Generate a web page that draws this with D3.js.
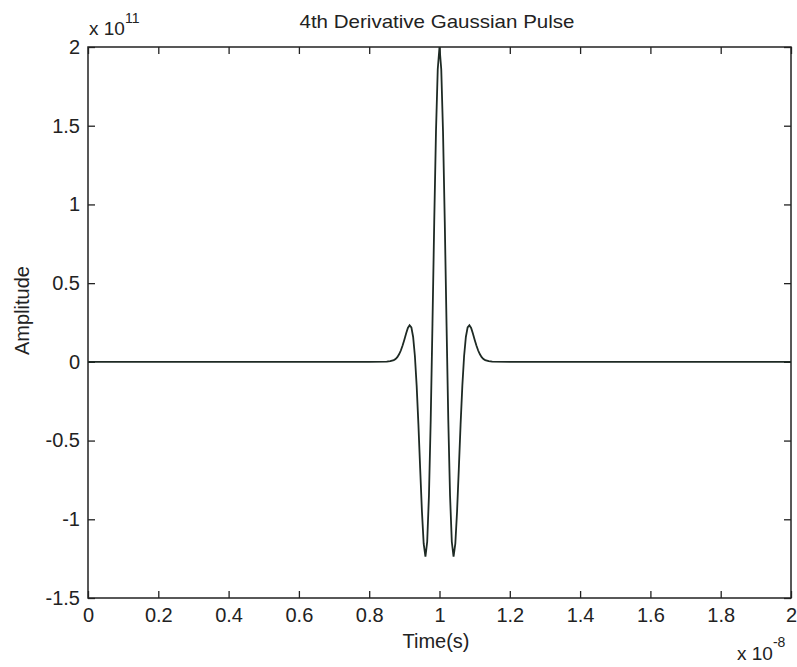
<!DOCTYPE html>
<html>
<head>
<meta charset="utf-8">
<script src="https://cdn.jsdelivr.net/npm/d3@7"></script>
<style>
  body { margin: 0; background: #fff; }
  text { font-family: "Liberation Sans", Arial, sans-serif; fill: #222; }
</style>
</head>
<body>
<div id="chart"></div>
<script>
// time in units of 1e-8 s, amplitude in units of 1e11
const times = [0, 0.80, 0.85, 0.86, 0.87, 0.875, 0.88, 0.885, 0.89, 0.895, 0.90, 0.905, 0.91, 0.915, 0.92,
               0.925, 0.93, 0.935, 0.94, 0.945, 0.95, 0.955, 0.96, 0.965, 0.97, 0.975, 0.98, 0.985, 0.99, 0.995,
               1.00, 1.005, 1.01, 1.015, 1.02, 1.025, 1.03, 1.035, 1.04, 1.045, 1.05, 1.055, 1.06, 1.065,
               1.07, 1.075, 1.08, 1.085, 1.09, 1.095, 1.10, 1.105, 1.11, 1.115, 1.12, 1.125, 1.13, 1.14, 1.15, 1.20, 2.0];
const amplitude = [0, 0, 0.001, 0.004, 0.011, 0.018, 0.030, 0.048, 0.072, 0.104, 0.141, 0.180, 0.215, 0.232, 0.219,
                   0.158, 0.037, -0.151, -0.397, -0.677, -0.949, -1.155, -1.237, -1.143, -0.849, -0.369, 0.240, 0.888, 1.463, 1.859,
                   2.0, 1.859, 1.463, 0.888, 0.240, -0.369, -0.849, -1.143, -1.237, -1.155, -0.949, -0.677, -0.397, -0.151,
                   0.037, 0.158, 0.219, 0.232, 0.215, 0.180, 0.141, 0.104, 0.072, 0.048, 0.030, 0.018, 0.011, 0.004, 0.001, 0, 0];

const xTicks = [0, 0.2, 0.4, 0.6, 0.8, 1, 1.2, 1.4, 1.6, 1.8, 2];
const yTicks = [-1.5, -1, -0.5, 0, 0.5, 1, 1.5, 2];

const W = 797, H = 667;
const margin = { top: 47, right: 6, bottom: 69, left: 88 },
      width = W - margin.left - margin.right,
      height = H - margin.top - margin.bottom;

const svg = d3.select("#chart")
              .append("svg")
              .attr("width", W)
              .attr("height", H);

const g = svg.append("g")
             .attr("transform", `translate(${margin.left},${margin.top})`);

const x = d3.scaleLinear().domain([0, 2]).range([0, width]);
const y = d3.scaleLinear().domain([-1.5, 2]).range([height, 0]);

const data = times.map((t, i) => ({ t: t, a: amplitude[i] }));

const fmt = d => String(d);
const tickLen = 7;

// Axes (ticks pointing inward, MATLAB style)
const axes = [
    { ax: d3.axisBottom(x).tickValues(xTicks).tickFormat(fmt).tickPadding(10), tr: `translate(0,${height})` },
    { ax: d3.axisTop(x).tickValues(xTicks).tickFormat(""), tr: "translate(0,0)" },
    { ax: d3.axisLeft(y).tickValues(yTicks).tickFormat(fmt).tickPadding(8), tr: "translate(0,0)" },
    { ax: d3.axisRight(y).tickValues(yTicks).tickFormat(""), tr: `translate(${width},0)` }
];

axes.forEach(a => {
    const sel = g.append("g")
                 .attr("transform", a.tr)
                 .call(a.ax.tickSizeInner(-tickLen).tickSizeOuter(0));
    sel.select(".domain").remove();
    sel.selectAll("line").attr("stroke", "#222").attr("stroke-width", 1.3);
    sel.selectAll("text")
       .attr("font-size", 20)
       .attr("font-family", "Liberation Sans, Arial, sans-serif")
       .attr("fill", "#222");
});

// Box
g.append("rect")
 .attr("width", width)
 .attr("height", height)
 .attr("fill", "none")
 .attr("stroke", "#222")
 .attr("stroke-width", 1.5);

// Signal
const line = d3.line()
               .x(d => x(d.t))
               .y(d => y(d.a));

g.append("path")
 .datum(data)
 .attr("fill", "none")
 .attr("stroke", "#1e2a24")
 .attr("stroke-width", 1.8)
 .attr("d", line);

// Title
svg.append("text")
   .attr("x", 437)
   .attr("y", 28)
   .attr("text-anchor", "middle")
   .attr("font-size", 19)
   .attr("textLength", 275)
   .attr("lengthAdjust", "spacingAndGlyphs")
   .text("4th Derivative Gaussian Pulse");

// Exponent labels
const e11 = svg.append("text")
               .attr("x", 89)
               .attr("y", 35)
               .attr("font-size", 19);
e11.append("tspan").text("x 10");
e11.append("tspan").attr("dy", -12).attr("font-size", 14).text("11");

const e8 = svg.append("text")
              .attr("x", 737)
              .attr("y", 660)
              .attr("font-size", 19);
e8.append("tspan").text("x 10");
e8.append("tspan").attr("dy", -13).attr("font-size", 14).text("-8");

// Axis labels
svg.append("text")
   .attr("x", 436)
   .attr("y", 648)
   .attr("text-anchor", "middle")
   .attr("font-size", 20)
   .text("Time(s)");

svg.append("text")
   .attr("transform", `translate(29,${margin.top + height / 2 - 12}) rotate(-90)`)
   .attr("text-anchor", "middle")
   .attr("font-size", 20)
   .text("Amplitude");
</script>
</body>
</html>
